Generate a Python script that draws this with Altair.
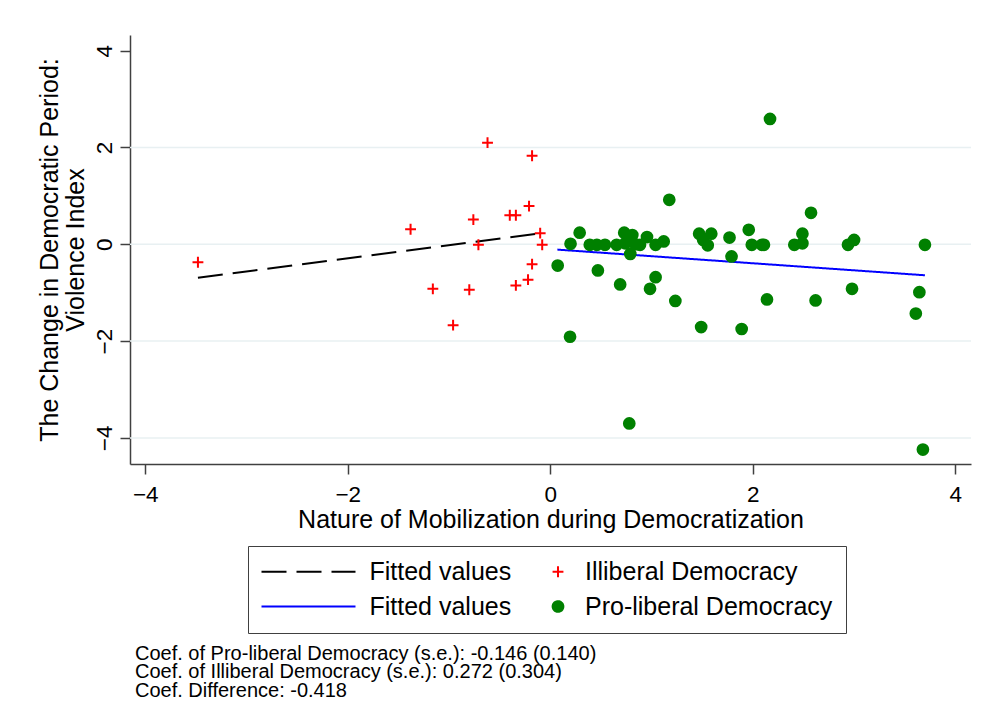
import altair as alt
import pandas as pd

FONT = "Liberation Sans"

# Illiberal democracies: mobilization score and change in the violence index
ill_x = [-3.48, -1.38, -1.16, -0.96, -0.80, -0.76, -0.71, -0.62, -0.40, -0.34,
         -0.34, -0.22, -0.21, -0.18, -0.18, -0.10, -0.08]
ill_y = [-0.37, 0.31, -0.92, -1.67, -0.94, 0.51, -0.01, 2.10, 0.60, 0.60,
         -0.85, -0.73, 0.79, 1.83, -0.41, 0.23, -0.01]

# Pro-liberal democracies
pro_x = [2.17, 1.175, 2.575, 0.29, 0.20, 0.073, 0.39, 0.46, 0.54, 0.655,
         0.73, 0.81, 0.79, 0.886, 0.955, 1.04, 1.12, 0.74, 0.84, 0.47,
         0.69, 1.04, 0.985, 1.235, 0.195, 1.49, 1.89, 1.47, 1.59, 1.51,
         1.555, 1.77, 1.79, 1.96, 1.99, 2.09, 2.11, 2.14, 2.49, 2.49,
         2.41, 2.62, 2.94, 3.00, 2.98, 3.70, 3.645, 3.61, 0.78, 3.68]
pro_y = [2.59, 0.92, 0.65, 0.24, 0.01, -0.44, -0.01, -0.01, -0.01, -0.01,
         0.24, 0.19, -0.20, -0.01, 0.15, -0.01, 0.06, 0.02, 0.00, -0.54,
         -0.83, -0.68, -0.92, -1.17, -1.91, -1.71, -1.75, 0.22, 0.22, 0.09,
         -0.02, 0.14, -0.25, 0.30, -0.01, -0.01, -0.01, -1.14, 0.22, 0.02,
         -0.01, -1.16, -0.01, 0.09, -0.92, -0.01, -0.99, -1.43, -3.70, -4.24]

# Fitted regression lines (end points)
fit_ill_x = [-3.48, -0.08]
fit_ill_y = [-0.69, 0.23]
fit_pro_x = [0.07, 3.70]
fit_pro_y = [-0.11, -0.64]

x_ticks = [-4, -2, 0, 2, 4]
y_ticks = [-4, -2, 0, 2, 4]
y_grid = [-4, -2, 0, 2]

notes = [
    "Coef. of Pro-liberal Democracy (s.e.): -0.146 (0.140)",
    "Coef. of Illiberal Democracy (s.e.): 0.272 (0.304)",
    "Coef. Difference: -0.418",
]

K_FIT_ILL = "Fitted values (illiberal)"
K_ILL = "Illiberal Democracy"
K_FIT_PRO = "Fitted values (pro-liberal)"
K_PRO = "Pro-liberal Democracy"
# legend fills column by column: fitted lines left, markers right
keys = [K_FIT_ILL, K_FIT_PRO, K_ILL, K_PRO]

points = pd.DataFrame({
    "x": ill_x + pro_x,
    "y": ill_y + pro_y,
    "series": [K_ILL] * len(ill_x) + [K_PRO] * len(pro_x),
})
fits = pd.DataFrame({
    "x": fit_ill_x + fit_pro_x,
    "y": fit_ill_y + fit_pro_y,
    "series": [K_FIT_ILL] * len(fit_ill_x) + [K_FIT_PRO] * len(fit_pro_x),
})
grid = pd.DataFrame({"y": y_grid})

# legend key for a fitted line: a long stroke ending just left of its label
LINE_PATH = "M-8.1,0H1.3"
CROSS_PATH = "M-1,0H1M0,-1V1"

legend = alt.Legend(
    # an empty left-hand title reserves room for the long line keys
    title=" ", titleOrient="left", titleFontSize=1, titlePadding=69,
    orient="none", legendX=118, legendY=511,
    columns=2, columnPadding=33.5, rowPadding=9,
    labelFont=FONT, labelFontSize=25, labelColor="black", labelLimit=0,
    labelOffset=14.5, symbolOffset=0,
    labelExpr="indexof(datum.label, 'Fitted') == 0 ? 'Fitted values' : datum.label",
    strokeColor="#404040", padding=13, symbolStrokeWidth=2,
)

color_scale = alt.Scale(domain=keys, range=["#000000", "#0000ff", "#ff0000", "#008000"])
dash_scale = alt.Scale(domain=keys, range=[[25, 10], [1, 0], [1, 0], [1, 0]])
shape_scale = alt.Scale(domain=keys, range=[LINE_PATH, LINE_PATH, CROSS_PATH, "circle"])
size_scale = alt.Scale(type="ordinal", domain=keys, range=[400, 400, 118, 115])

x_enc = alt.X(
    "x:Q",
    scale=alt.Scale(domain=[-4.151, 4.155], nice=False, zero=False),
    axis=alt.Axis(values=x_ticks, title="Nature of Mobilization during Democratization",
                  grid=False, labelPadding=9, titlePadding=2),
)
y_enc = alt.Y(
    "y:Q",
    scale=alt.Scale(domain=[-4.539, 4.324], nice=False, zero=False),
    axis=alt.Axis(values=y_ticks, title=["The Change in Democratic Period:", "Violence Index"],
                  grid=False, labelAngle=270, labelPadding=4, titlePadding=5,
                  titleLineHeight=26),
)

grid_layer = alt.Chart(grid).mark_rule(color="#e8f0f2", strokeWidth=1.5).encode(y=y_enc)

fit_layer = alt.Chart(fits).mark_line(strokeWidth=2).encode(
    x=x_enc, y=y_enc,
    stroke=alt.Stroke("series:N", scale=color_scale, legend=legend),
    strokeDash=alt.StrokeDash("series:N", scale=dash_scale, legend=legend),
)

point_layer = alt.Chart(points).mark_point(filled=True, opacity=1, strokeWidth=2).encode(
    x=x_enc, y=y_enc,
    fill=alt.Fill("series:N", scale=color_scale, legend=legend),
    stroke=alt.Stroke("series:N", scale=color_scale, legend=legend),
    shape=alt.Shape("series:N", scale=shape_scale, legend=legend),
    size=alt.Size("series:N", scale=size_scale, legend=legend),
)

chart = alt.layer(grid_layer, fit_layer, point_layer).properties(
    width=841, height=429,
    autosize=alt.AutoSizeParams(type="none"),
    padding={"left": 130, "top": 35, "right": 11, "bottom": 242},
    background="white",
    title=alt.TitleParams(
        text=notes, orient="bottom", anchor="start", frame="group",
        font=FONT, fontSize=20, fontWeight="normal", color="black",
        lineHeight=18.5, offset=10, dx=5,
    ),
).configure_view(stroke=None).configure_axis(
    domainColor="#404040", domainWidth=1.5, tickColor="#404040", tickWidth=1.5,
    tickSize=10, labelFont=FONT, labelFontSize=22.5, labelColor="black",
    titleFont=FONT, titleFontSize=25, titleFontWeight="normal", titleColor="black",
)

chart.save("out.html", embed_options={"renderer": "svg", "actions": False})
